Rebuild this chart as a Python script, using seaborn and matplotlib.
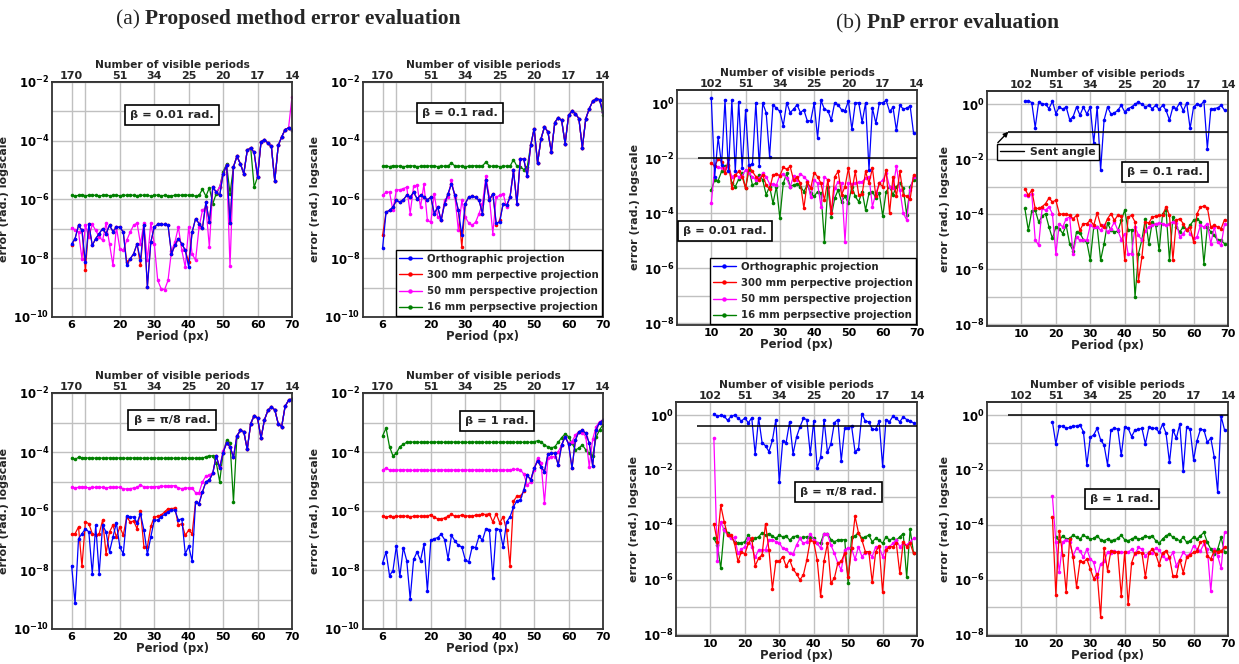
import numpy as np
import matplotlib
matplotlib.use("Agg")
import matplotlib.pyplot as plt
from matplotlib.lines import Line2D
import seaborn as sns

# ---------------------------------------------------------------------------
# Data: log10 of the angular error (rad.) versus fringe period (px)
# ---------------------------------------------------------------------------
a_period = np.arange(6, 71)          # periods used by the proposed method
a_top_labels = ["170", "51", "34", "25", "20", "17", "14"]
b_top_labels = ["102", "51", "34", "25", "20", "17", "14"]

# (a) beta = 0.01 rad.
a1_ortho = [-7.51, -7.33, -6.88, -7.05, -8.13, -6.85, -7.56, -7.33, -7.16, -6.99,
            -7.16, -6.88, -7.09, -6.94, -6.94, -7.11, -8.24, -8.02, -7.85, -7.51,
            -8.07, -6.88, -8.98, -7.45, -6.94, -6.85, -6.85, -6.85, -6.88, -7.85,
            -7.56, -7.33, -7.51, -7.73, -8.30, -7.11, -6.65, -6.82, -6.97, -6.09,
            -6.77, -5.58, -5.75, -5.86, -5.12, -4.84, -6.80, -4.89, -4.53, -4.78,
            -5.12, -4.33, -4.24, -4.40, -5.23, -4.04, -3.96, -4.08, -4.19, -5.37,
            -4.16, -3.87, -3.62, -3.56, -3.62]
a1_f300 = [-7.56, -7.33, -6.88, -7.05, -8.41, -6.85, -7.56, -7.33, -7.16, -6.99,
           -7.16, -6.88, -7.09, -6.94, -6.94, -7.11, -8.13, -8.02, -7.85, -7.51,
           -8.24, -6.88, -8.98, -7.45, -6.94, -6.85, -6.85, -6.85, -6.88, -7.85,
           -7.56, -7.33, -7.51, -7.73, -8.13, -7.11, -6.65, -6.82, -6.97, -6.09,
           -6.77, -5.58, -5.75, -5.86, -5.12, -4.84, -6.80, -4.89, -4.53, -4.78,
           -5.12, -4.33, -4.24, -4.40, -5.23, -4.04, -3.96, -4.08, -4.19, -5.37,
           -4.16, -3.87, -3.62, -3.56, -3.62]
a1_f50 = [-6.97, -7.03, -7.11, -8.02, -6.88, -7.28, -6.85, -7.05, -7.28, -7.39,
          -6.80, -7.51, -8.24, -6.94, -7.67, -7.73, -7.39, -7.11, -6.88, -6.80,
          -7.51, -6.80, -8.07, -6.80, -7.51, -8.75, -9.04, -9.07, -8.75, -7.75,
          -7.45, -6.94, -7.73, -8.30, -6.94, -7.85, -8.07, -6.94, -6.37, -6.26,
          -7.62, -5.58, -5.75, -5.58, -5.12, -4.84, -8.28, -4.89, -4.53, -4.78,
          -5.12, -4.33, -4.24, -4.40, -5.23, -4.04, -3.96, -4.08, -4.19, -5.37,
          -4.16, -3.87, -3.62, -3.56, -2.50]
a1_f16 = [-5.86, -5.88, -5.86, -5.84, -5.87, -5.86, -5.85, -5.86, -5.88, -5.86,
          -5.85, -5.87, -5.86, -5.86, -5.87, -5.85, -5.86, -5.84, -5.86, -5.87,
          -5.85, -5.86, -5.86, -5.88, -5.86, -5.85, -5.87, -5.86, -5.88, -5.87,
          -5.86, -5.85, -5.86, -5.84, -5.86, -5.85, -5.89, -5.86, -5.65, -5.89,
          -5.60, -6.14, -5.80, -5.58, -5.05, -4.80, -5.80, -4.89, -4.53, -4.78,
          -5.12, -4.33, -4.24, -5.58, -5.23, -4.04, -3.96, -4.08, -4.19, -5.37,
          -4.16, -3.87, -3.62, -3.56, -3.62]

# (a) beta = 0.1 rad.
a2_ortho = [-7.64, -6.43, -6.37, -6.26, -6.03, -6.09, -6.01, -5.86, -5.92, -5.75,
            -5.97, -5.86, -5.92, -6.01, -5.92, -6.48, -6.26, -6.71, -6.14, -5.80,
            -5.46, -5.86, -6.37, -7.22, -6.14, -5.92, -5.89, -5.92, -6.03, -6.48,
            -5.35, -6.03, -5.80, -6.80, -6.77, -6.14, -6.20, -5.92, -5.01, -6.14,
            -4.61, -4.63, -5.21, -4.16, -3.59, -4.76, -3.93, -3.53, -3.70, -4.38,
            -3.38, -3.21, -3.31, -4.10, -3.14, -2.99, -3.08, -3.25, -4.24, -3.25,
            -2.91, -2.66, -2.57, -2.60, -3.02]
a2_f300 = [-7.22, -6.43, -6.37, -6.26, -6.03, -6.09, -6.01, -5.86, -5.92, -5.75,
           -5.97, -5.86, -5.92, -6.01, -5.92, -6.48, -6.26, -6.71, -6.14, -5.80,
           -5.46, -5.86, -6.37, -7.62, -6.14, -5.92, -5.89, -5.92, -6.03, -6.48,
           -5.35, -6.03, -5.80, -6.88, -6.71, -6.14, -6.20, -5.92, -5.01, -6.14,
           -4.61, -4.63, -5.21, -4.16, -3.59, -4.76, -3.93, -3.53, -3.70, -4.38,
           -3.38, -3.21, -3.31, -4.10, -3.14, -2.99, -3.08, -3.25, -4.24, -3.25,
           -2.91, -2.66, -2.57, -2.60, -3.02]
a2_f50 = [-5.86, -5.75, -5.75, -6.37, -5.67, -5.67, -5.63, -5.58, -6.48, -5.55,
          -5.52, -6.26, -5.48, -6.71, -6.77, -5.80, -6.60, -6.71, -6.03, -5.92,
          -5.35, -5.92, -7.05, -6.03, -6.60, -6.80, -6.88, -6.77, -6.48, -6.14,
          -5.21, -5.92, -7.16, -5.92, -5.86, -5.80, -6.26, -5.92, -5.01, -6.14,
          -4.61, -4.63, -5.21, -4.16, -3.59, -4.76, -3.93, -3.53, -3.70, -4.38,
          -3.38, -3.21, -3.31, -4.10, -3.14, -2.99, -3.08, -3.25, -4.24, -3.25,
          -2.91, -2.66, -2.57, -2.60, -3.02]
a2_f16 = [-4.87, -4.86, -4.88, -4.85, -4.87, -4.86, -4.88, -4.87, -4.85, -4.86,
          -4.88, -4.87, -4.86, -4.87, -4.85, -4.86, -4.88, -4.86, -4.87, -4.86,
          -4.76, -4.86, -4.87, -4.86, -4.88, -4.87, -4.86, -4.85, -4.87, -4.86,
          -4.72, -4.86, -4.87, -4.86, -4.88, -4.87, -4.86, -4.87, -4.64, -4.87,
          -4.89, -4.98, -4.89, -4.16, -3.59, -4.76, -3.93, -3.53, -3.70, -4.38,
          -3.38, -3.21, -3.31, -4.10, -3.14, -2.99, -3.08, -3.25, -4.24, -3.25,
          -2.91, -2.66, -2.57, -2.60, -3.14]

# (a) beta = pi/8 rad.
a3_ortho = [-7.85, -9.13, -6.94, -6.77, -6.60, -6.71, -8.13, -6.48, -8.13, -6.48,
            -6.71, -7.39, -6.88, -6.40, -7.22, -7.45, -6.17, -6.20, -6.20, -6.40,
            -6.09, -6.65, -7.47, -6.88, -6.31, -6.31, -6.20, -6.11, -6.03, -5.97,
            -5.97, -6.31, -6.26, -7.45, -7.20, -7.70, -5.69, -5.75, -5.35, -5.01,
            -4.95, -4.72, -4.13, -4.55, -4.02, -3.70, -3.82, -4.18, -3.45, -3.27,
            -3.31, -3.91, -3.04, -2.77, -2.85, -3.53, -2.91, -2.59, -2.48, -2.57,
            -3.04, -3.14, -2.45, -2.25, -2.20]
a3_f300 = [-6.79, -6.77, -6.54, -7.88, -6.37, -6.43, -6.77, -6.82, -6.77, -6.31,
           -7.45, -6.71, -6.48, -6.88, -6.54, -6.82, -6.20, -6.37, -6.34, -6.60,
           -6.00, -7.22, -7.22, -6.52, -6.20, -6.18, -6.14, -6.03, -5.92, -5.92,
           -5.90, -6.48, -6.43, -6.82, -6.65, -6.77, -5.69, -5.75, -5.35, -5.01,
           -4.95, -4.72, -4.13, -4.55, -4.02, -3.70, -3.82, -4.18, -3.45, -3.27,
           -3.31, -3.91, -3.04, -2.77, -2.85, -3.53, -2.91, -2.59, -2.48, -2.57,
           -3.04, -3.14, -2.45, -2.25, -2.20]
a3_f50 = [-5.20, -5.21, -5.20, -5.19, -5.20, -5.21, -5.20, -5.20, -5.19, -5.20,
          -5.21, -5.20, -5.20, -5.19, -5.20, -5.25, -5.25, -5.24, -5.22, -5.20,
          -5.12, -5.18, -5.19, -5.18, -5.17, -5.17, -5.16, -5.16, -5.15, -5.15,
          -5.14, -5.22, -5.24, -5.22, -5.22, -5.22, -5.38, -5.38, -5.01, -4.82,
          -4.78, -4.70, -4.13, -4.52, -3.95, -3.70, -3.82, -4.18, -3.45, -3.27,
          -3.31, -3.91, -3.04, -2.77, -2.85, -3.53, -2.91, -2.59, -2.48, -2.57,
          -3.04, -3.14, -2.45, -2.25, -2.20]
a3_f16 = [-4.21, -4.25, -4.18, -4.20, -4.19, -4.21, -4.20, -4.21, -4.20, -4.21,
          -4.21, -4.20, -4.21, -4.21, -4.20, -4.21, -4.21, -4.21, -4.20, -4.21,
          -4.21, -4.21, -4.21, -4.21, -4.20, -4.21, -4.21, -4.21, -4.21, -4.21,
          -4.21, -4.21, -4.21, -4.22, -4.21, -4.21, -4.21, -4.21, -4.21, -4.16,
          -4.13, -4.13, -4.36, -5.01, -4.02, -3.61, -3.68, -5.69, -3.48, -3.27,
          -3.31, -3.91, -3.04, -2.77, -2.85, -3.53, -2.91, -2.59, -2.48, -2.57,
          -3.04, -3.14, -2.45, -2.25, -2.20]

# (a) beta = 1 rad.
a4_ortho = [-7.75, -7.39, -8.19, -8.02, -7.18, -8.22, -7.24, -7.68, -8.98, -7.64,
            -7.39, -7.68, -7.13, -8.70, -6.99, -6.94, -6.90, -6.79, -6.97, -7.62,
            -6.82, -7.02, -7.16, -7.22, -7.65, -7.73, -7.22, -7.24, -6.86, -6.99,
            -6.60, -6.63, -8.27, -6.60, -6.63, -7.22, -6.37, -6.20, -5.86, -5.65,
            -5.63, -5.29, -4.78, -4.95, -4.55, -4.30, -4.50, -4.67, -4.07, -4.04,
            -4.04, -4.44, -3.76, -3.48, -3.73, -4.55, -3.59, -3.31, -3.27, -3.36,
            -3.70, -4.47, -3.25, -3.00, -2.93]
a4_f300 = [-6.18, -6.20, -6.18, -6.19, -6.18, -6.18, -6.17, -6.18, -6.19, -6.18,
           -6.17, -6.18, -6.18, -6.18, -6.12, -6.22, -6.26, -6.26, -6.24, -6.18,
           -6.11, -6.18, -6.18, -6.13, -6.16, -6.17, -6.18, -6.14, -6.15, -6.10,
           -6.12, -6.09, -6.37, -6.09, -6.40, -6.20, -6.65, -7.85, -5.67, -5.50,
           -5.50, -5.33, -4.78, -4.95, -4.55, -4.30, -4.50, -4.67, -4.07, -4.04,
           -4.04, -4.44, -3.76, -3.48, -3.73, -4.55, -3.59, -3.31, -3.27, -3.36,
           -3.70, -4.47, -3.25, -3.00, -2.93]
a4_f50 = [-4.61, -4.55, -4.61, -4.62, -4.61, -4.61, -4.60, -4.61, -4.62, -4.62,
          -4.61, -4.60, -4.61, -4.61, -4.62, -4.61, -4.61, -4.61, -4.61, -4.62,
          -4.61, -4.61, -4.61, -4.61, -4.61, -4.61, -4.61, -4.61, -4.61, -4.61,
          -4.61, -4.61, -4.61, -4.61, -4.61, -4.61, -4.61, -4.60, -4.59, -4.59,
          -4.60, -4.75, -5.13, -5.01, -4.61, -4.21, -4.36, -5.72, -4.21, -4.16,
          -4.16, -3.99, -3.76, -3.48, -3.70, -3.65, -3.42, -3.31, -3.34, -3.48,
          -4.50, -3.57, -3.14, -2.97, -2.93]
a4_f16 = [-3.45, -3.19, -3.82, -4.13, -4.04, -3.82, -3.74, -3.67, -3.67, -3.66,
          -3.67, -3.67, -3.66, -3.67, -3.67, -3.67, -3.66, -3.67, -3.67, -3.67,
          -3.67, -3.66, -3.67, -3.67, -3.67, -3.67, -3.67, -3.66, -3.67, -3.67,
          -3.67, -3.67, -3.67, -3.67, -3.67, -3.66, -3.67, -3.67, -3.67, -3.67,
          -3.67, -3.67, -3.67, -3.67, -3.65, -3.62, -3.65, -3.77, -3.82, -3.86,
          -3.82, -3.67, -3.51, -3.39, -3.48, -3.70, -3.93, -3.87, -3.76, -3.93,
          -4.04, -4.13, -3.50, -3.25, -3.08]

# (b) PnP, beta = 0.01 rad.
b1_period = np.arange(10, 70)
b1_ortho = [0.18, -2.67, -1.24, -2.24, 0.12, -2.48, 0.10, -2.48, 0.06, -2.36,
            -0.24, -2.24, -2.22, 0.02, -2.28, 0.00, -0.34, -1.94, -0.06, -0.18,
            -0.30, -0.82, 0.02, -0.34, -0.22, -0.06, -0.34, -0.24, -0.64, -0.64,
            0.00, -1.25, 0.10, -0.22, -0.27, -0.61, 0.02, -0.06, -0.24, -0.27,
            0.08, -0.95, 0.00, 0.02, -0.70, 0.02, -2.42, -0.18, -0.73, 0.00,
            0.02, 0.10, -0.30, -0.15, -0.99, -0.08, -0.21, -0.18, -0.10, -1.09]
b1_f300 = [-2.16, -2.30, -2.02, -2.12, -2.55, -2.04, -3.09, -2.61, -2.48, -2.67,
           -3.09, -2.30, -2.48, -2.67, -2.79, -2.61, -2.97, -3.13, -2.61, -2.57,
           -2.64, -2.33, -2.40, -2.30, -2.79, -2.69, -2.91, -3.82, -2.85, -3.09,
           -2.52, -2.67, -2.91, -3.52, -2.79, -4.00, -2.67, -2.48, -3.33, -3.03,
           -2.36, -3.21, -2.48, -3.33, -3.30, -2.48, -2.91, -2.36, -3.39, -2.91,
           -3.03, -2.42, -4.00, -2.67, -3.39, -2.48, -3.33, -3.39, -3.49, -2.61]
b1_f50 = [-3.64, -2.30, -2.33, -2.36, -2.36, -2.28, -2.67, -2.61, -2.67, -2.64,
          -2.42, -2.55, -2.67, -2.79, -2.73, -2.55, -2.67, -2.93, -2.93, -2.97,
          -2.61, -2.57, -2.73, -3.05, -2.64, -2.79, -2.57, -2.67, -2.81, -3.42,
          -2.79, -2.91, -3.76, -2.67, -2.79, -4.00, -3.09, -2.85, -2.91, -5.03,
          -2.91, -2.93, -2.91, -2.88, -2.85, -2.73, -2.67, -3.76, -3.27, -2.91,
          -2.79, -2.55, -3.03, -3.09, -2.28, -3.15, -4.00, -4.24, -3.15, -2.67]
b1_f16 = [-3.15, -2.79, -2.81, -2.48, -2.30, -2.24, -2.91, -3.03, -2.76, -2.55,
          -3.09, -2.42, -2.97, -2.91, -2.61, -2.79, -3.33, -3.03, -3.64, -3.03,
          -4.18, -2.91, -2.55, -3.03, -2.97, -2.93, -3.03, -3.21, -2.97, -3.27,
          -3.39, -3.21, -3.27, -5.03, -3.03, -4.12, -3.45, -3.15, -3.58, -3.39,
          -3.64, -3.03, -3.39, -3.58, -3.21, -3.88, -3.27, -3.21, -3.45, -3.27,
          -4.10, -3.21, -3.03, -3.33, -3.03, -2.91, -3.09, -4.06, -3.03, -2.79]

# (b) PnP, beta = 0.1 rad.
b2_period = np.arange(11, 70)
b2_ortho = [0.11, 0.12, 0.06, -0.85, 0.08, 0.02, 0.00, -0.16, 0.11, -0.34,
            -0.10, -0.18, -0.10, -0.56, -0.46, -0.10, -0.40, -0.10, -0.36, -0.10,
            -1.41, -0.10, -2.40, -0.58, -0.10, -0.36, -0.32, -0.22, -0.04, -0.28,
            -0.16, -0.10, 0.00, 0.08, 0.00, -0.10, -0.04, -0.16, -0.04, -0.19,
            -0.04, -0.22, -0.58, -0.10, -0.16, 0.05, -0.24, 0.05, -0.88, -0.10,
            0.00, -0.04, 0.11, -1.61, -0.19, -0.16, -0.13, -0.04, -0.22]
b2_f300 = [-3.07, -3.31, -3.13, -3.79, -3.79, -3.73, -3.61, -3.41, -3.55, -3.49,
           -3.98, -4.00, -4.00, -4.04, -4.16, -4.04, -4.58, -4.34, -4.34, -4.22,
           -4.40, -3.95, -4.40, -4.46, -4.16, -3.98, -4.22, -4.04, -4.07, -5.67,
           -4.10, -4.04, -4.28, -6.42, -5.55, -4.28, -4.32, -4.10, -4.07, -4.04,
           -4.04, -3.73, -4.04, -5.65, -4.22, -4.16, -4.34, -4.58, -4.46, -5.01,
           -3.98, -3.73, -3.71, -3.76, -4.46, -4.40, -4.46, -4.52, -4.19]
b2_f50 = [-3.31, -3.35, -3.25, -4.92, -5.13, -3.79, -3.85, -3.73, -3.98, -5.43,
          -4.34, -4.46, -4.16, -4.10, -5.43, -4.82, -4.95, -4.92, -4.95, -4.40,
          -4.46, -4.46, -4.58, -4.40, -4.64, -4.52, -4.28, -4.58, -4.92, -4.70,
          -5.45, -5.43, -4.46, -4.76, -4.95, -4.61, -4.46, -4.40, -4.34, -4.32,
          -4.34, -4.40, -4.34, -4.28, -4.32, -4.82, -4.70, -4.52, -4.70, -4.88,
          -4.82, -4.40, -4.46, -4.34, -5.07, -4.46, -5.01, -5.13, -4.34]
b2_f16 = [-3.79, -4.58, -3.88, -3.85, -4.28, -4.07, -3.98, -4.46, -4.88, -4.46,
          -4.52, -4.70, -4.40, -5.07, -5.33, -4.64, -4.68, -4.92, -5.01, -5.67,
          -4.46, -4.46, -5.67, -5.07, -4.32, -4.58, -4.64, -4.61, -4.22, -3.85,
          -4.58, -4.56, -7.01, -5.43, -4.92, -4.16, -5.07, -4.28, -4.40, -5.31,
          -3.98, -3.85, -5.67, -4.10, -4.46, -4.64, -4.46, -4.58, -4.40, -4.22,
          -4.16, -4.28, -5.79, -4.46, -4.64, -4.76, -4.95, -4.95, -5.07]

# (b) PnP, beta = pi/8 rad.
b3_period = np.arange(11, 70)
b3_ortho = [0.05, -0.04, -0.01, -0.04, -0.19, -0.04, 0.00, -0.10, -0.22, -0.10,
            -0.28, -0.10, -1.42, -0.10, -1.00, -1.12, -1.33, -0.92, -0.16, -2.45,
            -0.94, -1.00, -0.24, -1.42, -0.80, -0.43, -0.12, -0.16, -1.42, -0.22,
            -1.93, -1.54, -0.16, -1.36, -1.04, -0.28, -0.16, -1.66, -0.48, -0.48,
            -0.40, -1.33, -1.24, 0.05, -0.22, -0.24, -0.52, -0.52, -0.22, -1.85,
            -0.16, -0.24, -0.04, -0.12, -0.24, -0.07, -0.16, -0.22, -0.28]
b3_f300 = [-3.96, -4.62, -3.29, -3.90, -4.38, -4.38, -4.68, -5.34, -4.98, -5.07,
           -4.68, -4.50, -5.50, -5.22, -5.10, -3.96, -4.92, -6.34, -5.34, -5.34,
           -5.16, -5.52, -5.28, -5.62, -5.79, -6.01, -5.83, -5.28, -4.56, -4.62,
           -5.28, -6.61, -5.31, -4.68, -6.13, -5.95, -5.40, -5.34, -5.04, -5.92,
           -4.86, -3.69, -4.29, -4.56, -4.98, -4.98, -6.10, -4.98, -4.78, -6.46,
           -4.92, -4.80, -4.80, -4.68, -5.77, -4.62, -4.80, -4.68, -5.04]
b3_f50 = [-0.84, -5.31, -3.90, -4.20, -4.38, -4.50, -4.46, -5.04, -4.90, -4.80,
          -4.50, -4.80, -5.19, -4.92, -4.92, -4.92, -4.56, -4.54, -4.62, -4.66,
          -4.86, -4.90, -5.04, -5.07, -4.74, -4.50, -4.68, -4.62, -4.32, -4.54,
          -4.68, -4.86, -4.32, -4.34, -4.74, -5.04, -5.40, -5.65, -4.92, -4.84,
          -4.86, -5.26, -4.80, -5.16, -5.02, -5.04, -5.16, -4.80, -4.80, -5.16,
          -4.83, -4.80, -4.68, -4.56, -4.80, -4.68, -4.74, -4.62, -4.50]
b3_f16 = [-4.50, -4.74, -5.59, -4.17, -4.29, -4.44, -4.62, -4.68, -4.66, -4.62,
          -4.38, -4.56, -4.50, -4.44, -4.29, -4.38, -4.32, -4.41, -4.50, -4.38,
          -4.44, -4.41, -4.56, -4.44, -4.41, -4.50, -4.46, -4.44, -4.46, -4.50,
          -4.68, -4.66, -4.32, -4.32, -4.54, -4.62, -4.56, -4.56, -4.54, -6.13,
          -4.44, -4.41, -4.29, -4.50, -4.44, -4.38, -4.62, -4.50, -4.56, -4.68,
          -4.44, -4.56, -4.50, -4.56, -4.44, -4.32, -5.92, -4.17, -5.04]

# (b) PnP, beta = 1 rad.
b4_period = np.arange(19, 70)
b4_period_f16 = np.arange(20, 70)
b4_ortho = [-0.24, -1.05, -0.40, -0.40, -0.48, -0.45, -0.40, -0.40, -0.36, -0.60,
            -1.81, -0.81, -0.72, -0.48, -0.90, -1.09, -1.81, -0.54, -0.48, -0.51,
            -1.47, -0.42, -0.48, -0.78, -0.54, -0.52, -0.48, -1.05, -0.45, -0.48,
            -0.48, -0.63, -0.33, -0.66, -1.72, -0.54, -0.84, -0.33, -2.05, -0.42,
            -0.52, -1.63, -0.93, -0.52, -0.54, -0.99, -0.84, -1.53, -2.81, -0.04,
            -0.54]
b4_f300 = [-3.70, -6.57, -4.22, -5.10, -6.45, -4.52, -5.19, -6.27, -5.34, -5.37,
           -5.25, -5.61, -5.97, -5.79, -7.36, -4.86, -5.67, -4.95, -4.98, -5.01,
           -6.60, -4.98, -6.91, -5.39, -5.03, -5.01, -5.03, -5.91, -5.03, -4.89,
           -5.07, -5.46, -5.03, -4.95, -5.19, -5.87, -5.87, -5.27, -5.75, -5.19,
           -5.10, -5.01, -4.95, -4.64, -4.58, -5.13, -5.25, -4.95, -4.98, -4.95,
           -4.83]
b4_f50 = [-2.96, -4.64, -5.71, -4.62, -4.55, -4.64, -5.13, -4.86, -4.95, -5.19,
          -4.89, -5.25, -5.37, -5.91, -5.43, -5.34, -5.01, -5.03, -4.95, -5.01,
          -5.01, -5.01, -5.01, -4.89, -5.07, -4.83, -4.89, -5.13, -5.01, -5.03,
          -4.86, -4.92, -5.13, -5.25, -5.22, -5.01, -5.49, -5.27, -5.01, -5.13,
          -5.07, -4.76, -4.89, -4.95, -4.70, -4.89, -6.43, -4.89, -5.13, -5.59,
          -4.28]
b4_f16 = [-4.46, -4.58, -4.40, -4.52, -4.50, -4.38, -4.46, -4.52, -4.38, -4.46,
          -4.52, -4.50, -4.40, -4.55, -4.58, -4.52, -4.58, -4.55, -4.50, -4.38,
          -4.55, -4.58, -4.52, -4.46, -4.52, -4.50, -4.40, -4.46, -4.40, -4.58,
          -4.67, -4.52, -4.40, -4.34, -4.46, -4.52, -4.58, -4.46, -4.64, -4.58,
          -4.46, -4.52, -4.40, -4.28, -4.64, -4.89, -5.07, -4.89, -4.46, -5.01]

sent_angles = [0.01, 0.1, np.pi / 8, 1.0]
beta_labels = ["β = 0.01 rad.", "β = 0.1 rad.", "β = π/8 rad.", "β = 1 rad."]

series_names = ["Orthographic projection", "300 mm perpective projection",
                "50 mm perspective projection", "16 mm perpsective projection"]
series_colors = ["#0000ff", "#ff0000", "#ff00ff", "#008000"]

# ---------------------------------------------------------------------------
# Style
# ---------------------------------------------------------------------------
sns.set_theme(style="whitegrid", rc={
    "grid.color": "#c0c0c0", "grid.linewidth": 1.0,
    "axes.edgecolor": "#333333", "axes.linewidth": 1.3,
})
plt.rcParams["font.family"] = ["DejaVu Sans"]
plt.rcParams["font.weight"] = "bold"
plt.rcParams["axes.labelweight"] = "bold"
plt.rcParams["mathtext.fontset"] = "dejavusans"

fig = plt.figure(figsize=(12.39, 6.64), dpi=100)
W, H = 1239.0, 664.0


def rect(x0, y0, x1, y1):
    return [x0 / W, 1 - y1 / H, (x1 - x0) / W, (y1 - y0) / H]


TICK_FS = 8.0
YTICK_FS = 8.4
LAB_FS = 8.0


def style_axes(ax, group):
    ax.set_yscale("log")
    ax.set_xlim(0.3 if group == "a" else 0.0, 70)
    if group == "a":
        ax.set_ylim(1e-10, 1e-2)
        exps = np.arange(-10, -1)
        xt = [6, 10, 20, 30, 40, 50, 60, 70]
        xl = ["6", "", "20", "30", "40", "50", "60", "70"]
        tt = [6, 20, 30, 40, 50, 60, 70]
        tl = a_top_labels
    else:
        ax.set_ylim(10 ** -8.06, 10 ** 0.48)
        exps = np.arange(-8, 1)
        xt = [10, 20, 30, 40, 50, 60, 70]
        xl = [str(v) for v in xt]
        tt = xt
        tl = b_top_labels
    ax.set_yticks([10.0 ** e for e in exps])
    ax.set_yticklabels([(r"$\mathbf{10^{%d}}$" % e) if (e % 2 == 0) else "" for e in exps])
    ax.minorticks_off()
    ax.set_xticks(xt)
    ax.set_xticklabels(xl)
    ax.tick_params(axis="x", length=0, pad=2, labelsize=TICK_FS, colors="black")
    ax.tick_params(axis="y", length=0, pad=2, labelsize=YTICK_FS, colors="black")
    ax.grid(True, which="major")
    ax.set_xlabel("Period (px)", fontsize=LAB_FS + 0.4, labelpad=0)
    ax.set_ylabel("error (rad.) logscale", fontsize=LAB_FS, labelpad=3)
    top = ax.secondary_xaxis("top")
    top.set_xticks(tt)
    top.set_xticklabels(tl)
    top.tick_params(length=0, pad=1, labelsize=TICK_FS)
    top.set_xlabel("Number of visible periods", fontsize=LAB_FS - 0.3, labelpad=2)
    for s in ax.spines.values():
        s.set_color("#333333")


def draw_series(ax, xs_list, ys_list):
    order = [3, 2, 1, 0]  # green first so the orthographic curve ends on top
    for i in order:
        sns.lineplot(x=xs_list[i], y=np.power(10.0, ys_list[i]), ax=ax,
                     color=series_colors[i], marker="o", markersize=2.6,
                     markeredgewidth=0, linewidth=0.9, estimator=None,
                     sort=False, legend=False)


def beta_box(ax, text, x, y):
    ax.text(x, y, text, transform=ax.transAxes, ha="center", va="center",
            fontsize=8.2, fontweight="bold", zorder=6,
            bbox=dict(boxstyle="square,pad=0.45", fc="white", ec="black", lw=1.2))


def series_legend(ax):
    handles = [Line2D([], [], color=c, marker="o", markersize=3.2, lw=1.0,
                      markeredgewidth=0) for c in series_colors]
    leg = ax.legend(handles, series_names, loc="lower right",
                    frameon=True, fancybox=False, framealpha=1, borderpad=0.35,
                    labelspacing=0.62, handlelength=2.2, handletextpad=0.5,
                    borderaxespad=0.1, prop={"weight": "bold", "size": 7.3})
    leg.get_frame().set_edgecolor("black")
    leg.get_frame().set_linewidth(1.0)
    leg.set_zorder(7)


# ---------------------------------------------------------------------------
# (a) Proposed method
# ---------------------------------------------------------------------------
a_rects = [rect(52, 82, 292, 317), rect(363, 82, 603, 317),
           rect(52, 393, 292, 629), rect(363, 393, 603, 629)]
a_data = [(a1_ortho, a1_f300, a1_f50, a1_f16), (a2_ortho, a2_f300, a2_f50, a2_f16),
          (a3_ortho, a3_f300, a3_f50, a3_f16), (a4_ortho, a4_f300, a4_f50, a4_f16)]
a_box_pos = [(0.50, 0.86), (0.404, 0.868), (0.50, 0.886), (0.558, 0.881)]

for k in range(4):
    ax = fig.add_axes(a_rects[k])
    draw_series(ax, [a_period] * 4, a_data[k])
    style_axes(ax, "a")
    beta_box(ax, beta_labels[k], *a_box_pos[k])
    if k == 1:
        series_legend(ax)

# ---------------------------------------------------------------------------
# (b) PnP
# ---------------------------------------------------------------------------
b_rects = [rect(677, 90, 917, 325), rect(987, 91, 1228, 326),
           rect(676, 402, 917, 636), rect(987, 402, 1228, 636)]
b_x = [[b1_period] * 4, [b2_period] * 4, [b3_period] * 4,
       [b4_period, b4_period, b4_period, b4_period_f16]]
b_data = [(b1_ortho, b1_f300, b1_f50, b1_f16), (b2_ortho, b2_f300, b2_f50, b2_f16),
          (b3_ortho, b3_f300, b3_f50, b3_f16), (b4_ortho, b4_f300, b4_f50, b4_f16)]
b_box_pos = [(0.20, 0.40), (0.739, 0.655), (0.676, 0.615), (0.56, 0.585)]

for k in range(4):
    ax = fig.add_axes(b_rects[k])
    ax.hlines(sent_angles[k], 6, 70, color="black", lw=1.1, zorder=3)
    draw_series(ax, b_x[k], b_data[k])
    style_axes(ax, "b")
    beta_box(ax, beta_labels[k], *b_box_pos[k])
    if k == 0:
        series_legend(ax)
    if k == 1:
        h = Line2D([], [], color="black", lw=1.0)
        leg = ax.legend([h], ["Sent angle"], loc="upper left",
                        bbox_to_anchor=(0.04, 0.775),
                        frameon=True, fancybox=False, framealpha=1,
                        borderpad=0.3, handlelength=2.2, handletextpad=0.6,
                        borderaxespad=0.0, prop={"weight": "bold", "size": 7.8})
        leg.get_frame().set_edgecolor("black")
        leg.get_frame().set_linewidth(1.0)
        ax.annotate("", xy=(6.2, sent_angles[k]), xycoords="data",
                    xytext=(0.045, 0.78), textcoords="axes fraction",
                    arrowprops=dict(arrowstyle="-|>", color="black", lw=1.0,
                                    mutation_scale=7, shrinkA=0, shrinkB=0))

# ---------------------------------------------------------------------------
# Group titles
# ---------------------------------------------------------------------------
title_font = ["Liberation Serif", "DejaVu Serif"]
ta = fig.text(116 / W, 1 - 24 / H, "(a) ", fontsize=15.5, family=title_font,
              fontweight="normal", ha="left", va="baseline")
fig.axes[0].annotate("Proposed method error evaluation", xy=(1, 0), xycoords=ta,
                     fontsize=15.5, family=title_font, fontweight="bold",
                     ha="left", va="bottom", annotation_clip=False)
tb = fig.text(836 / W, 1 - 28 / H, "(b) ", fontsize=15.5, family=title_font,
              fontweight="normal", ha="left", va="baseline")
fig.axes[0].annotate("PnP error evaluation", xy=(1, 0), xycoords=tb,
                     fontsize=15.5, family=title_font, fontweight="bold",
                     ha="left", va="bottom", annotation_clip=False)

fig.savefig("out.png", dpi=100)
